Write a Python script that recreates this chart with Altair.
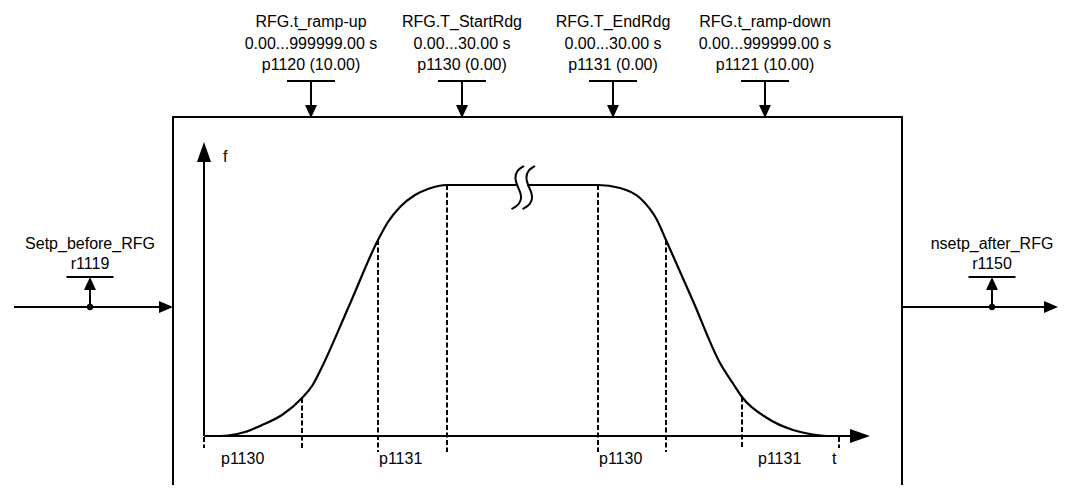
import altair as alt
import pandas as pd

# ---------------- text content ----------------
top_names = ["RFG.t_ramp-up", "RFG.T_StartRdg", "RFG.T_EndRdg", "RFG.t_ramp-down"]
top_ranges = ["0.00...999999.00 s", "0.00...30.00 s", "0.00...30.00 s", "0.00...999999.00 s"]
top_params = ["p1120 (10.00)", "p1130 (0.00)", "p1131 (0.00)", "p1121 (10.00)"]
io_names = ["Setp_before_RFG", "nsetp_after_RFG"]
io_params = ["r1119", "r1150"]
bottom_labels = ["p1130", "p1131", "p1130", "p1131", "t"]
axis_label = ["f"]

# ---------------- diagram geometry (page pixel coordinates) ----------------
top_arrow_x = [311, 462, 613, 765]
top_text_y = [27, 48.5, 70]
io_x = [90, 992]
io_text_y = [248.5, 269]
bottom_label_x = [221, 379, 599, 758, 832]
bottom_label_y = [464]
f_label_xy = [223, 162]

box_x = [173, 173, 902, 902]
box_y = [485, 117, 117, 485]

# ramp-function generator curve
ramp_up_x = [219, 228, 245, 262, 282, 302, 312, 320, 349, 378, 388, 400, 415, 428, 447, 516]
ramp_up_y = [436, 435.5, 432, 425, 415, 398, 386, 371, 306, 240, 222, 207, 195, 189, 185, 185]
ramp_dn_x = [527, 598, 620, 640, 657, 666, 693, 720, 734, 742, 767, 793, 810, 826]
ramp_dn_y = [185, 185, 188, 198, 220, 240, 301, 363, 385, 397, 418, 430, 434, 436]

# break symbol (two integral-like strokes)
brk_x = [524, 517, 514.5, 517.5, 521, 521.5, 517, 511.5]
brk_y = [166, 170, 178, 186.5, 193.5, 200, 206.5, 209]
brk_shift = [0, 11]

# dashed markers
dash_x = [204, 302, 378, 447, 598, 666, 742, 839]
dash_top = [437, 398, 240, 185, 185, 240, 397, 437]
dash_bot = [448, 448, 452, 452, 452, 452, 448, 448]

# ---------------- tables ----------------
segs = []
for a in top_arrow_x:
    segs.append((a - 24, 81, a + 24, 81))
    segs.append((a, 81, a, 106))
for c in io_x:
    segs.append((c - 23.5, 277, c + 23.5, 277))
    segs.append((c, 307, c, 289))
segs += [(14, 307, 160, 307), (902, 307, 1045, 307),
         (204, 436, 204, 160), (204, 436, 852, 436)]
seg_df = pd.DataFrame(segs, columns=["x", "y", "x2", "y2"])

box_segs = pd.DataFrame(
    [(box_x[i], box_y[i], box_x[i + 1], box_y[i + 1]) for i in range(3)],
    columns=["x", "y", "x2", "y2"])

dash_df = pd.DataFrame({"x": dash_x, "y": dash_top, "x2": dash_x, "y2": dash_bot})

curve_rows = []
for i, (x, y) in enumerate(zip(ramp_up_x, ramp_up_y)):
    curve_rows.append(dict(x=x, y=y, seg="up", i=i))
for i, (x, y) in enumerate(zip(ramp_dn_x, ramp_dn_y)):
    curve_rows.append(dict(x=x, y=y, seg="down", i=i))
curve_df = pd.DataFrame(curve_rows)

brk_rows = []
for k, s in enumerate(brk_shift):
    for i, (x, y) in enumerate(zip(brk_x, brk_y)):
        brk_rows.append(dict(x=x + s, y=y, seg=f"b{k}", i=i))
brk_df = pd.DataFrame(brk_rows)

DOWN13 = "M-0.92,-1L0.92,-1L0,1Z"
UP13 = "M0,-1L0.92,1L-0.92,1Z"
UP20 = "M0,-1L0.7,1L-0.7,1Z"
RIGHT14 = "M1,0L-1,-0.86L-1,0.86Z"
RIGHT20 = "M1,0L-1,-0.7L-1,0.7Z"
heads = []
for a in top_arrow_x:
    heads.append(dict(x=a, y=111.5, shape=DOWN13, size=169))
for c in io_x:
    heads.append(dict(x=c, y=283.5, shape=UP13, size=169))
heads.append(dict(x=166, y=307, shape=RIGHT14, size=196))
heads.append(dict(x=1051, y=307, shape=RIGHT14, size=196))
heads.append(dict(x=204, y=152, shape=UP20, size=400))
heads.append(dict(x=860, y=436, shape=RIGHT20, size=400))
head_df = pd.DataFrame(heads)

dot_df = pd.DataFrame({"x": io_x, "y": [307, 307]})

center_texts = []
for a, n, r, p in zip(top_arrow_x, top_names, top_ranges, top_params):
    for t, yy in zip([n, r, p], top_text_y):
        center_texts.append(dict(x=a, y=yy, text=t))
for c, n, p in zip(io_x, io_names, io_params):
    for t, yy in zip([n, p], io_text_y):
        center_texts.append(dict(x=c, y=yy, text=t))
center_df = pd.DataFrame(center_texts)

left_texts = [dict(x=x, y=bottom_label_y[0], text=t) for x, t in zip(bottom_label_x, bottom_labels)]
left_texts.append(dict(x=f_label_xy[0], y=f_label_xy[1], text=axis_label[0]))
left_df = pd.DataFrame(left_texts)

# ---------------- chart ----------------
W, H = 1050, 477
xs = alt.Scale(domain=[8, 8 + W], nice=False, zero=False)
ys = alt.Scale(domain=[8, 8 + H], nice=False, zero=False, reverse=True)


def X(f="x"):
    return alt.X(f"{f}:Q", scale=xs, axis=None)


def Y(f="y"):
    return alt.Y(f"{f}:Q", scale=ys, axis=None)


BLACK = "#000000"

box = alt.Chart(box_segs).mark_rule(color=BLACK, strokeWidth=2, strokeCap="square").encode(
    x=X(), y=Y(), x2="x2:Q", y2="y2:Q")
solid = alt.Chart(seg_df).mark_rule(color=BLACK, strokeWidth=2).encode(
    x=X(), y=Y(), x2="x2:Q", y2="y2:Q")
dashed = alt.Chart(dash_df).mark_rule(color=BLACK, strokeWidth=2, strokeDash=[5, 2.5]).encode(
    x=X(), y=Y(), x2="x2:Q", y2="y2:Q")
curve = alt.Chart(curve_df).mark_line(color=BLACK, strokeWidth=2.2, interpolate="monotone").encode(
    x=X(), y=Y(), detail="seg:N", order="i:Q")
brk = alt.Chart(brk_df).mark_line(color=BLACK, strokeWidth=2, interpolate="basis").encode(
    x=X(), y=Y(), detail="seg:N", order="i:Q")
heads_l = alt.Chart(head_df).mark_point(filled=True, color=BLACK, opacity=1, strokeWidth=0).encode(
    x=X(), y=Y(), shape=alt.Shape("shape:N", scale=None), size=alt.Size("size:Q", scale=None))
dots = alt.Chart(dot_df).mark_circle(color=BLACK, opacity=1, size=40).encode(x=X(), y=Y())
txt_c = alt.Chart(center_df).mark_text(font="Liberation Sans", fontSize=16, color=BLACK,
                                       align="center", baseline="alphabetic").encode(
    x=X(), y=Y(), text="text:N")
txt_l = alt.Chart(left_df).mark_text(font="Liberation Sans", fontSize=16, color=BLACK,
                                     align="left", baseline="alphabetic").encode(
    x=X(), y=Y(), text="text:N")

chart = alt.layer(box, dashed, curve, brk, solid, heads_l, dots, txt_c, txt_l).properties(
    width=W, height=H, padding=0, autosize=alt.AutoSizeParams(type="none")
).configure_view(strokeWidth=0)

chart.save("out.html", embed_options={"renderer": "svg", "actions": False})
